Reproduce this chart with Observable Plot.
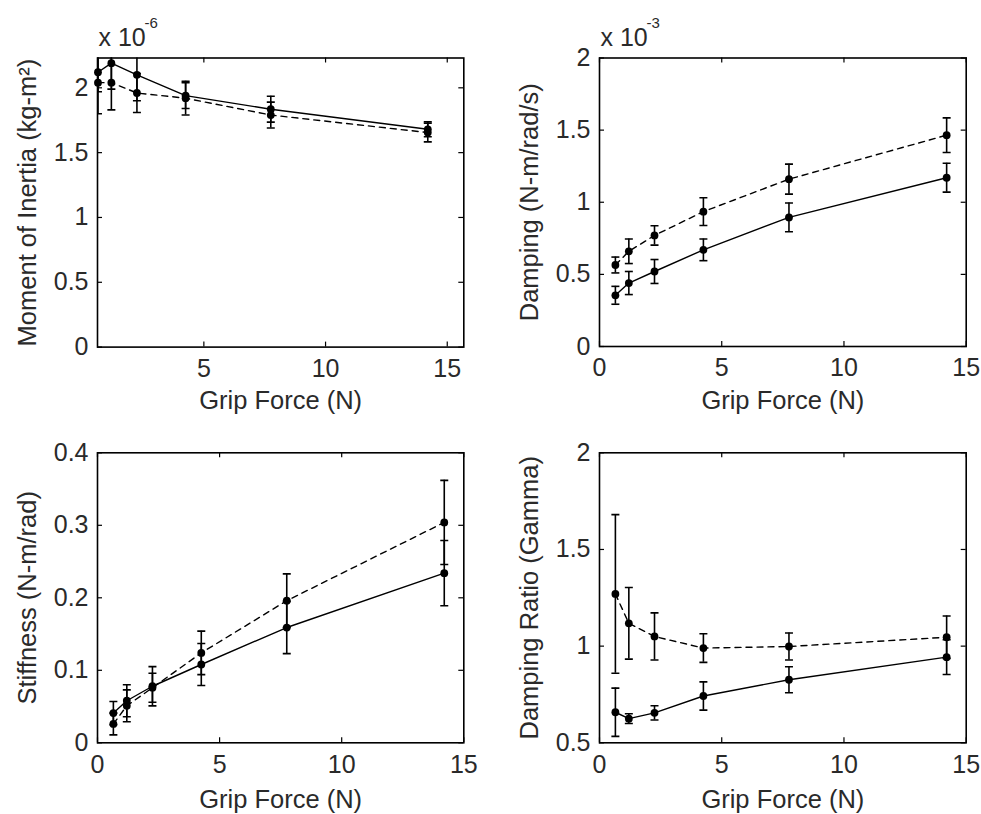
<!DOCTYPE html>
<html>
<head>
<meta charset="utf-8">
<script src="https://cdn.jsdelivr.net/npm/d3@7"></script>
<script src="https://cdn.jsdelivr.net/npm/@observablehq/plot@0.6"></script>
<style>
  body { margin: 0; background: #fff; }
  #chart { position: relative; width: 981px; height: 814px; background: #fff; }
  #chart svg { position: absolute; left: 0; top: 0; }
</style>
</head>
<body>
<div id="chart"></div>
<script>
// ---- data ----
const gripForce = [0.65, 1.2, 2.25, 4.25, 7.75, 14.2];
const xTickLabel = "Grip Force (N)";

// Moment of inertia (x 10^-6 kg-m^2)
const inertiaSolid     = [2.12, 2.19, 2.10, 1.94, 1.835, 1.68];
const inertiaSolidErr  = [0.15, 0.20, 0.20, 0.10, 0.10, 0.057];
const inertiaDashed    = [2.04, 2.04, 1.96, 1.92, 1.79, 1.655];
const inertiaDashedErr = [0.24, 0.21, 0.15, 0.13, 0.10, 0.072];

// Damping (x 10^-3 N-m/rad/s)
const dampingSolid     = [0.355, 0.44, 0.52, 0.67, 0.895, 1.17];
const dampingSolidErr  = [0.062, 0.08, 0.083, 0.075, 0.10, 0.10];
const dampingDashed    = [0.565, 0.66, 0.77, 0.935, 1.16, 1.465];
const dampingDashedErr = [0.055, 0.085, 0.067, 0.096, 0.104, 0.12];

// Stiffness (N-m/rad)
const stiffSolid     = [0.041, 0.058, 0.078, 0.108, 0.159, 0.234];
const stiffSolidErr  = [0.016, 0.022, 0.027, 0.029, 0.036, 0.045];
const stiffDashed    = [0.026, 0.051, 0.076, 0.124, 0.196, 0.304];
const stiffDashedErr = [0.015, 0.022, 0.020, 0.030, 0.037, 0.058];

// Damping ratio (Gamma)
const ratioSolid     = [0.658, 0.625, 0.655, 0.742, 0.826, 0.943];
const ratioSolidErr  = [0.125, 0.025, 0.037, 0.073, 0.067, 0.09];
const ratioDashed    = [1.27, 1.118, 1.05, 0.99, 0.998, 1.046];
const ratioDashedErr = [0.41, 0.185, 0.122, 0.074, 0.07, 0.11];

// tick values
const xTicksFull  = [0, 5, 10, 15];
const xTicksShort = [5, 10, 15];
const yTicksA = [0, 0.5, 1, 1.5, 2];
const yTicksB = [0, 0.1, 0.2, 0.3, 0.4];
const yTicksC = [0.5, 1, 1.5, 2];

// ---- panels ----
const W = 981, H = 814;
const panels = [
  {solid: inertiaSolid, solidErr: inertiaSolidErr, dashed: inertiaDashed, dashedErr: inertiaDashedErr,
   x0: 97, x1: 463.3, y0: 57.5, y1: 346.6, xDomain: [0.63, 15.68], yDomain: [0, 2.23],
   xTicks: xTicksShort, yTicks: yTicksA, yLabel: "Moment of Inertia (kg-m²)", exp: "-6", labelDy: 62},
  {solid: dampingSolid, solidErr: dampingSolidErr, dashed: dampingDashed, dashedErr: dampingDashedErr,
   x0: 599, x1: 965.7, y0: 57.5, y1: 346, xDomain: [0, 15], yDomain: [0, 2],
   xTicks: xTicksFull, yTicks: yTicksA, yLabel: "Damping (N-m/rad/s)", exp: "-3", labelDy: 62},
  {solid: stiffSolid, solidErr: stiffSolidErr, dashed: stiffDashed, dashedErr: stiffDashedErr,
   x0: 97, x1: 463.3, y0: 452.3, y1: 742.3, xDomain: [0, 15], yDomain: [0, 0.4],
   xTicks: xTicksFull, yTicks: yTicksB, yLabel: "Stiffness (N-m/rad)", exp: null, labelDy: 65},
  {solid: ratioSolid, solidErr: ratioSolidErr, dashed: ratioDashed, dashedErr: ratioDashedErr,
   x0: 599, x1: 965.7, y0: 452.3, y1: 742.3, xDomain: [0, 15], yDomain: [0.5, 2],
   xTicks: xTicksFull, yTicks: yTicksC, yLabel: "Damping Ratio (Gamma)", exp: null, labelDy: 65}
];

const capSymbol = {
  draw(context, size) {
    const r = Math.sqrt(size / Math.PI);
    context.moveTo(-r, 0);
    context.lineTo(r, 0);
  }
};

const font = "'Liberation Sans', Arial, Helvetica, sans-serif";
const ink = "#000";
const textInk = "#2a2a2a";

function makePanel(p) {
  const rows = [];
  gripForce.forEach((x, i) => {
    rows.push({series: "solid", x, y: p.solid[i], e: p.solidErr[i]});
    rows.push({series: "dashed", x, y: p.dashed[i], e: p.dashedErr[i]});
  });
  const solidRows = rows.filter(d => d.series === "solid");
  const dashedRows = rows.filter(d => d.series === "dashed");
  const fw = p.x1 - p.x0, fh = p.y1 - p.y0;
  const tl = 5;
  const marks = [
    Plot.line(solidRows, {x: "x", y: "y", stroke: ink, strokeWidth: 1.4, clip: true}),
    Plot.line(dashedRows, {x: "x", y: "y", stroke: ink, strokeWidth: 1.4, strokeDasharray: "6,5", clip: true}),
    Plot.ruleX(rows, {x: "x", y1: d => d.y - d.e, y2: d => d.y + d.e, stroke: ink, strokeWidth: 1.6, clip: true}),
    Plot.dot(rows, {x: "x", y: d => d.y + d.e, symbol: capSymbol, r: 4, stroke: ink, strokeWidth: 1.6, fill: "none", clip: true}),
    Plot.dot(rows, {x: "x", y: d => d.y - d.e, symbol: capSymbol, r: 4, stroke: ink, strokeWidth: 1.6, fill: "none", clip: true}),
    Plot.dot(rows, {x: "x", y: "y", r: 3.9, fill: ink, stroke: "none"}),
    Plot.frame({stroke: ink, strokeWidth: 1.6}),
    Plot.tickX(p.xTicks, {x: d => d, insetTop: fh - tl, stroke: ink, strokeWidth: 1.2}),
    Plot.tickX(p.xTicks, {x: d => d, insetBottom: fh - tl, stroke: ink, strokeWidth: 1.2}),
    Plot.tickY(p.yTicks, {y: d => d, insetRight: fw - tl, stroke: ink, strokeWidth: 1.2}),
    Plot.tickY(p.yTicks, {y: d => d, insetLeft: fw - tl, stroke: ink, strokeWidth: 1.2}),
    Plot.axisX({ticks: p.xTicks, tickSize: 0, tickPadding: 12, tickFormat: d => String(d), label: null, fontSize: 25, fill: textInk}),
    Plot.axisY({ticks: p.yTicks, tickSize: 0, tickPadding: 9, tickFormat: d => String(d), label: null, fontSize: 25, fill: textInk}),
    Plot.text([xTickLabel], {frameAnchor: "bottom", dy: p.labelDy, lineAnchor: "bottom", textAnchor: "middle", fontSize: 25.5, fill: textInk}),
    Plot.text([p.yLabel], {frameAnchor: "left", dx: -69.5, rotate: -90, lineAnchor: "middle", textAnchor: "middle", fontSize: 25.5, fill: textInk})
  ];
  if (p.exp) {
    marks.push(Plot.text(["x 10"], {frameAnchor: "top-left", dx: 1, dy: -12.5, lineAnchor: "bottom", textAnchor: "start", fontSize: 25, fill: textInk}));
    marks.push(Plot.text([p.exp], {frameAnchor: "top-left", dx: 47, dy: -30, lineAnchor: "bottom", textAnchor: "start", fontSize: 15, fill: textInk}));
  }
  return Plot.plot({
    width: W, height: H,
    marginLeft: p.x0, marginRight: W - p.x1, marginTop: p.y0, marginBottom: H - p.y1,
    style: {background: "transparent", fontFamily: font, fontSize: "25px", color: textInk, overflow: "visible"},
    x: {domain: p.xDomain, label: null},
    y: {domain: p.yDomain, label: null},
    marks
  });
}

const host = document.getElementById("chart");
panels.forEach(p => host.appendChild(makePanel(p)));
</script>
</body>
</html>
